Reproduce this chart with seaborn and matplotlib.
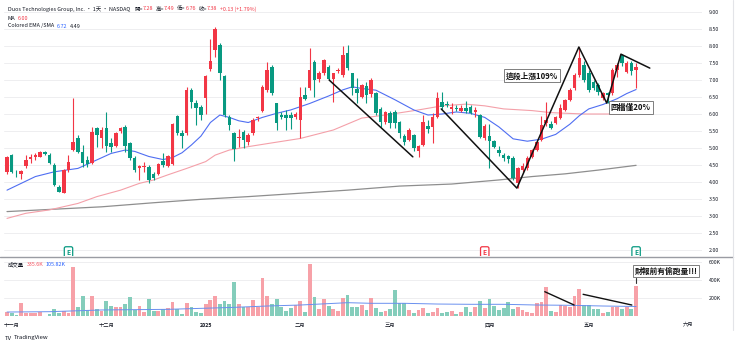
import numpy as np
import pandas as pd
import matplotlib
matplotlib.use("Agg")
import matplotlib.pyplot as plt
import seaborn as sns

# ---------------- data ----------------
opens = [4.30,4.79,4.30,4.24,4.48,4.69,4.73,4.75,4.87,4.79,4.50,3.86,3.69,4.35,4.94,5.28,4.89,4.65,4.55,5.58,
         5.28,5.58,5.14,5.06,5.50,5.61,5.14,4.70,4.42,4.43,4.45,4.24,4.25,4.62,4.47,4.53,5.94,5.45,5.43,6.71,
         6.31,6.22,6.46,7.31,7.88,8.03,7.12,5.92,5.43,5.28,5.48,5.19,5.43,5.87,6.10,6.71,7.39,6.31,5.97,5.97,
         5.97,5.90,5.82,6.56,6.75,7.54,7.02,7.22,7.39,7.02,7.27,7.15,7.78,7.20,6.73,6.51,6.82,6.60,6.61,6.14,
         5.77,6.02,6.07,5.77,5.35,5.24,5.38,4.91,5.09,5.65,5.63,5.92,6.36,6.30,6.14,6.19,6.10,6.17,6.22,6.05,
         5.97,5.28,5.35,5.22,4.95,4.80,4.75,4.70,3.96,4.35,4.40,4.75,4.94,5.24,5.73,5.70,5.75,5.87,6.12,6.41,
         6.75,7.15,7.44,7.20,6.95,6.85,6.46,6.62,6.61,7.29,7.73,7.24,7.50,7.28]
highs = [4.77,4.83,4.35,4.35,4.79,4.81,4.84,4.91,4.90,4.84,4.55,3.91,4.37,4.79,6.46,5.38,5.09,4.75,5.63,5.63,
         5.63,6.07,5.28,5.48,5.63,5.68,5.19,4.75,4.50,4.60,4.50,4.30,4.55,4.84,4.79,5.73,5.97,5.53,6.80,6.75,
         6.41,6.26,7.15,8.20,8.55,8.10,7.15,5.97,5.48,5.55,5.53,5.45,5.87,5.95,6.85,7.54,7.44,6.33,6.05,6.12,
         6.05,6.05,6.80,6.80,7.93,7.59,7.25,7.62,7.45,7.22,7.35,8.00,8.03,7.22,7.05,6.88,6.95,7.05,6.65,6.20,
         6.10,6.10,6.12,5.80,5.40,5.58,5.42,5.09,5.97,5.82,6.02,6.66,6.66,6.38,6.33,6.25,6.25,6.39,6.27,6.20,
         6.00,5.70,5.71,5.24,5.05,4.85,4.80,4.75,4.45,4.55,4.75,4.98,5.22,5.95,6.36,5.78,5.95,6.30,6.45,6.75,
         7.20,7.98,7.55,7.30,7.00,6.90,6.65,6.65,7.35,7.50,7.76,7.55,7.55,7.49]
lows = [4.24,4.25,4.16,4.08,4.40,4.55,4.65,4.73,4.80,4.53,3.89,3.70,3.67,4.30,4.92,4.84,4.45,4.45,4.53,5.04,
        4.99,4.89,4.89,5.04,5.43,4.89,4.65,4.30,4.06,4.30,3.96,4.06,4.20,4.45,4.45,4.50,5.38,4.99,5.38,6.17,
        5.68,5.82,6.00,7.25,7.67,7.00,5.92,5.53,4.62,5.04,4.99,5.10,5.38,5.80,6.05,6.66,6.56,5.53,5.85,5.53,
        5.55,5.85,5.28,6.40,6.70,6.51,6.95,7.15,7.00,6.36,7.20,7.10,7.30,6.56,6.31,6.48,6.31,6.50,5.98,5.62,
        5.70,5.60,5.60,5.30,5.10,5.20,4.90,4.74,5.05,5.45,5.14,5.88,6.14,6.20,6.00,6.10,6.05,6.02,6.00,5.92,
        5.28,5.23,4.40,5.00,4.75,4.62,4.55,4.05,3.81,4.30,4.35,4.70,4.90,5.20,5.65,5.55,5.70,5.85,6.10,6.38,
        6.70,7.10,6.95,6.65,6.70,6.55,6.40,6.31,6.55,7.10,7.40,7.20,7.15,6.76]
closes = [4.75,4.30,4.28,4.33,4.65,4.73,4.79,4.89,4.82,4.55,3.91,3.72,4.35,4.60,5.19,4.89,4.55,4.53,5.48,5.38,
          5.53,5.06,5.04,5.45,5.60,5.06,4.70,4.35,4.48,4.47,4.06,4.11,4.52,4.50,4.76,5.71,5.43,5.35,6.71,6.36,
          6.17,5.97,7.12,7.56,8.49,7.22,5.97,5.68,4.96,5.31,5.24,5.38,5.82,5.92,6.80,7.29,6.61,5.73,5.92,5.87,
          5.87,6.00,6.51,6.43,7.29,7.00,7.20,7.59,7.02,7.20,7.30,7.74,7.34,6.75,6.63,6.85,6.56,7.00,6.02,5.77,
          6.07,5.73,5.73,5.43,5.19,5.53,4.99,5.06,5.77,5.55,5.90,6.46,6.22,6.27,6.20,6.14,6.19,6.10,6.04,6.12,
          5.31,5.65,5.22,5.04,4.85,4.72,4.68,4.11,4.42,4.47,4.70,4.94,5.19,5.68,5.82,5.60,5.90,6.17,6.41,6.71,
          7.15,7.64,7.00,6.71,6.75,6.66,6.61,6.55,7.29,7.44,7.49,7.49,7.25,7.38]
volumes_k = [44,37,11,148,37,37,30,44,5,22,78,30,56,37,548,96,222,67,222,74,
             59,167,111,96,104,133,215,67,111,48,189,52,56,74,85,156,74,22,148,104,
             48,30,130,178,222,133,170,133,381,133,96,96,178,96,422,222,133,189,96,56,
             85,122,167,48,574,207,74,185,111,81,56,196,233,104,104,122,67,196,85,48,
             56,74,289,148,148,67,30,67,93,30,48,85,30,48,56,22,48,96,41,96,
             167,85,189,111,67,85,156,78,96,67,48,30,148,152,318,59,48,122,115,104,
             226,304,122,122,74,74,37,48,104,104,74,96,74,335.6]

ema_idx = [0,3,6,10,15,19,22,25,27,30,33,35,37,39,41,43,45,47,49,51,54,57,60,64,68,71,73,75,78,82,
           86,89,92,95,98,101,104,107,110,113,116,119,121,123,126,129,131,133]
ema_val = [3.76,3.96,4.16,4.30,4.40,4.65,4.84,4.94,4.90,4.75,4.66,4.72,4.86,5.09,5.35,5.75,5.97,5.90,5.80,5.75,
           5.90,6.02,6.12,6.31,6.53,6.71,6.80,6.75,6.70,6.42,6.12,5.97,6.00,6.06,6.02,5.90,5.62,5.27,5.20,5.26,
           5.40,5.70,5.95,6.15,6.28,6.45,6.60,6.72]
ma_idx = [0,4,9,15,19,24,28,31,34,38,42,44,47,51,56,62,69,75,80,87,92,97,101,105,111,115,122,133]
ma_val = [2.93,3.08,3.18,3.37,3.57,3.76,3.96,4.06,4.21,4.40,4.60,4.79,4.94,5.04,5.15,5.28,5.53,5.88,5.97,6.12,
          6.24,6.29,6.24,6.15,6.10,6.04,6.00,6.00]
sma_idx = [0,10,20,31,41,51,62,72,83,94,104,111,118,125,133]
sma_val = [3.13,3.20,3.27,3.39,3.49,3.57,3.67,3.76,3.88,3.94,4.06,4.16,4.24,4.35,4.49]
vma_idx = [0,9,20,34,48,55,62,72,77,84,91,98,105,112,119,126,133]
vma_val = [44,48,67,74,96,111,122,148,141,141,133,130,130,122,119,111,105.82]

price_ticks = [2.0,2.5,3.0,3.5,4.0,4.5,5.0,5.5,6.0,6.5,7.0,7.5,8.0,8.5,9.0]
vol_ticks_k = [200,400,600]
vol_tick_labels = ["200K","400K","600K"]
month_pos = [1,21,42,62,81,102,123,144]
month_labels = ["十一月","十二月","2025","二月","三月","四月","五月","六月"]

# annotation paths (bar index, price / volume K)
down_x = [68.1, 85.8]; down_y = [7.00, 4.74]
zig_x = [91.8, 107.8, 120.9, 126.8, 129.8, 135.9]; zig_y = [6.15, 3.82, 7.97, 6.32, 7.76, 7.35]
vline1_x = [113.7, 119.9]; vline1_y = [270, 122]
vline2_x = [121.8, 132.1]; vline2_y = [241, 122]
earn_idx = [13, 101, 133]
earn_col = ["#089981", "#F23645", "#089981"]

# ---------------- style ----------------
sns.set_theme(style="white")
plt.rcParams['font.family'] = ['Noto Sans CJK TC', 'DejaVu Sans']
plt.rcParams['axes.unicode_minus'] = False

UP = "#F23645"; DN = "#089981"
W, H = 740, 346
fig = plt.figure(figsize=(W/100, H/100), dpi=100)
fig.patch.set_facecolor("white")

axp = fig.add_axes([4/W, (H-256)/H, (702-4)/W, 256/H])
axv = fig.add_axes([4/W, (H-317)/H, (702-4)/W, (317-256)/H], sharex=axp)

df = pd.DataFrame({"i": np.arange(len(opens)), "o": opens, "h": highs, "l": lows, "c": closes,
                   "v": np.array(volumes_k) * 1000})
df["up"] = df["c"] >= df["o"]
df["col"] = np.where(df["up"], UP, DN)

for ax in (axp, axv):
    for s in ax.spines.values():
        s.set_visible(False)
    ax.set_facecolor("white")

# gridlines
for t in price_ticks:
    axp.axhline(t, color="#eeeef0", lw=0.7, zorder=0)
for t in vol_ticks_k:
    axv.axhline(t*1000, color="#eeeef0", lw=0.7, zorder=0)

# candles
axp.vlines(df["i"], df["l"], df["h"], colors=df["col"], lw=0.8, zorder=2)
body_lo = np.minimum(df["o"], df["c"])
body_h = np.maximum(np.abs(df["c"] - df["o"]), 0.02)
axp.bar(df["i"], body_h, bottom=body_lo, width=0.74, color=df["col"], linewidth=0, zorder=3)

# moving averages
sns.lineplot(x=sma_idx, y=sma_val, ax=axp, color="#8e8e8e", lw=0.9, zorder=1)
sns.lineplot(x=ma_idx, y=ma_val, ax=axp, color="#f4a0a9", lw=0.8, zorder=1)
sns.lineplot(x=ema_idx, y=ema_val, ax=axp, color="#4f6ef2", lw=0.8, zorder=1)

# annotation lines
axp.plot(down_x, down_y, color="#111111", lw=1.1, zorder=5)
axp.plot(zig_x, zig_y, color="#111111", lw=1.1, zorder=5)

box = dict(boxstyle="square,pad=0.25", fc="white", ec="#6a6a6a", lw=0.6)
axp.text(111.0, 7.12, "這段上漲109%", fontsize=5.6, fontweight="bold", color="#111111",
         ha="center", va="center", bbox=box, zorder=6)
axp.text(131.9, 6.19, "回檔僅20%", fontsize=5.6, fontweight="bold", color="#111111",
         ha="center", va="center", bbox=box, zorder=6)

# earnings markers
for ei, ec in zip(earn_idx, earn_col):
    axp.text(ei, 1.93, "E", fontsize=4.8, color=ec, ha="center", va="center", fontweight="bold",
             bbox=dict(boxstyle="round,pad=0.32,rounding_size=0.25", fc="white", ec=ec, lw=0.9),
             zorder=7, clip_on=False)

axp.set_ylim(2 - 6/34, 2 + 250/34)
axp.set_xlim((4-7)/4.73, (702-7)/4.73)
axp.yaxis.tick_right()
axp.set_yticks(price_ticks)
axp.set_yticklabels([f"{t:.2f}" for t in price_ticks])
axp.tick_params(axis="y", length=0, pad=5, labelsize=3.8, labelcolor="#131722")
axp.tick_params(axis="x", length=0, labelbottom=False)
axp.set_xlabel(""); axp.set_ylabel("")

# volume
vcol = np.where(df["up"], "#F7A1A8", "#84CDBB")
axv.bar(df["i"], df["v"], width=0.8, color=vcol, linewidth=0, zorder=2)
sns.lineplot(x=vma_idx, y=np.array(vma_val)*1000, ax=axv, color="#6a90ef", lw=0.7, zorder=3)
axv.plot(vline1_x, np.array(vline1_y)*1000, color="#111111", lw=1.0, zorder=5)
axv.plot(vline2_x, np.array(vline2_y)*1000, color="#111111", lw=1.0, zorder=5)
axv.plot([132.9, 132.9], [367000, 422000], color="#333333", lw=0.8, zorder=5)
axv.text(139.3, 500000, "財報前有偷跑量!!!", fontsize=5.6, fontweight="bold", color="#111111",
         ha="center", va="center", bbox=box, zorder=6, clip_on=False)
axv.set_ylim(-11100, 666700)
axv.yaxis.tick_right()
axv.set_yticks([t*1000 for t in vol_ticks_k])
axv.set_yticklabels(vol_tick_labels)
axv.tick_params(axis="y", length=0, pad=5, labelsize=3.8, labelcolor="#131722")
axv.set_xticks(month_pos)
axv.set_xticklabels(month_labels)
axv.tick_params(axis="x", length=0, pad=4, labelsize=3.8, labelcolor="#131722")
for lab in axv.get_xticklabels():
    if lab.get_text() == "2025":
        lab.set_fontweight("bold")
axv.set_xlabel(""); axv.set_ylabel("")

# pane separator and right border
fig.add_artist(plt.Line2D([0, 733/W], [1-256.5/H, 1-256.5/H], color="#9a9ca3", lw=1.0))
fig.add_artist(plt.Line2D([733/W, 733/W], [1-330/H, 1.0], color="#e3e4e8", lw=0.8))

# legend texts
renderer = fig.canvas.get_renderer()
def pieces(x_px, y_px, items, size=3.9):
    x = x_px
    for s, c, gap in items:
        t = fig.text(x/W, 1 - y_px/H, s, color=c, fontsize=size, ha="left", va="center")
        x += t.get_window_extent(renderer=renderer).width + gap

DK = "#131722"; RD = "#F23645"; BL = "#2962FF"
pieces(8, 9, [("Duos Technologies Group, Inc. · 1天 · NASDAQ", DK, 4),
              ("開=", DK, 0), ("7.28", RD, 2.5), ("高=", DK, 0), ("7.49", RD, 2.5),
              ("低=", DK, 0), ("6.76", RD, 2.5), ("收=", DK, 0), ("7.38", RD, 2.5),
              ("+0.13 (+1.79%)", RD, 0)])
pieces(8, 18, [("MA", DK, 2.5), ("6.00", RD, 0)])
pieces(8, 26, [("Colored EMA /SMA", DK, 2.5), ("6.72", BL, 2.5), ("4.49", DK, 0)])
pieces(8, 265, [("成交量", DK, 2.5), ("335.6K", "#F7525F", 2.5), ("105.82K", BL, 0)])
pieces(5, 338, [("TV", DK, 1.5), ("TradingView", DK, 0)], size=4.3)

fig.savefig("out.png", dpi=100, facecolor="white")
